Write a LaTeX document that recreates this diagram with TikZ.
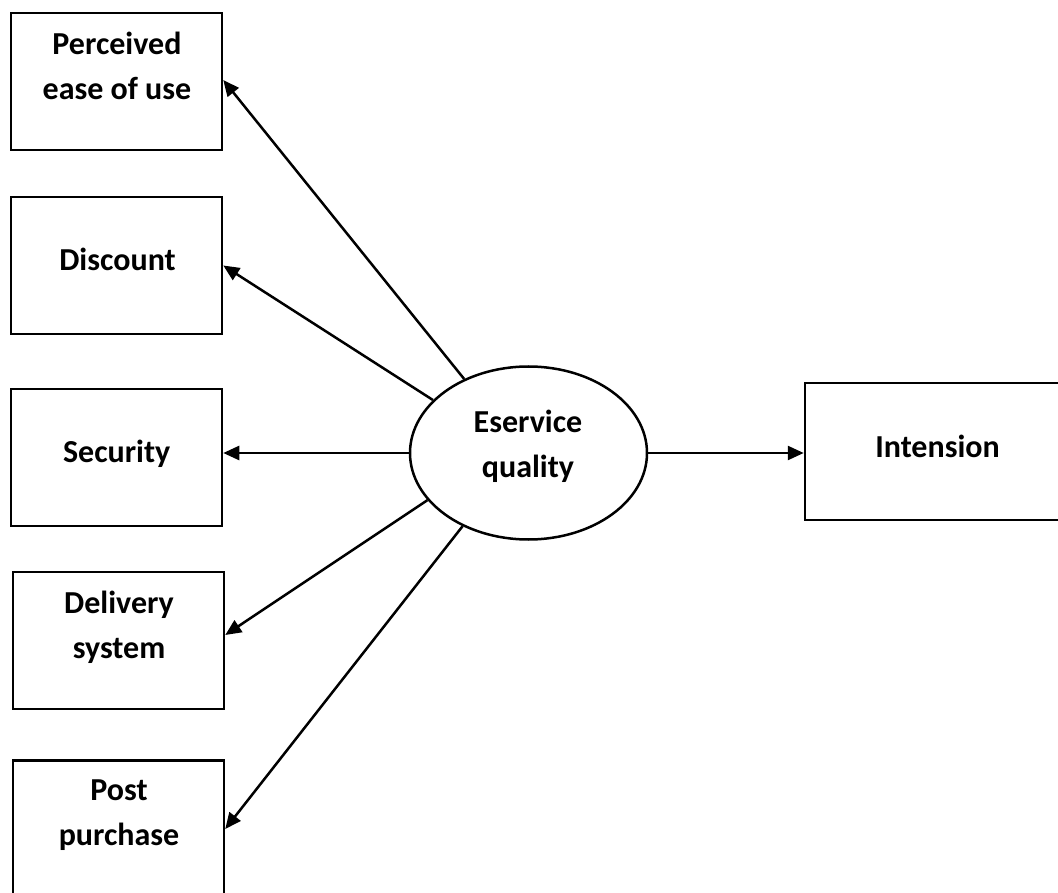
\documentclass[tikz,border=0pt]{standalone}
\usepackage{fontspec}
\setmainfont{Carlito}
\usetikzlibrary{shapes.geometric,arrows.meta}
\tikzset{
  box/.style={draw=black, line width=2.5pt, minimum width=211pt, minimum height=137pt, inner sep=0pt},
  lbl/.style={font=\fontsize{32}{45}\selectfont\bfseries, align=center, anchor=base, inner sep=0pt},
  link/.style={line width=2.5pt, -{Triangle[length=16pt,width=14pt]}}
}
\begin{document}
\begin{tikzpicture}[x=1pt,y=-1pt]
\useasboundingbox (0,0) rectangle (1058,893);
\clip (0,0) rectangle (1058,893);
\node[box] (b1) at (116.5,81.5) {};
\node[box] (b2) at (116.5,265.5) {};
\node[box] (b3) at (116.5,457.5) {};
\node[box] (b4) at (118.5,640.5) {};
\node[box] (b5) at (118.5,829) {};
\node[box, minimum width=266pt] (b6) at (938,451.5) {};
\node[draw=black, line width=2.5pt, ellipse, minimum width=237pt, minimum height=173pt, inner sep=0pt] (e) at (528.5,453) {};
\node[lbl] (t1) at (117,100) {Perceived\\ease of use};
\node[lbl] (t2) at (117.5,271) {Discount};
\node[lbl] (t3) at (116.7,462) {Security};
\node[lbl] (t4) at (119,658) {Delivery\\system};
\node[lbl] (t5) at (119,845) {Post\\purchase};
\node[lbl] (te) at (528,477) {Eservice\\quality};
\node[lbl] (t6) at (937.5,457) {Intension};
\draw[link] (e.131.6) -- ([yshift=1.5pt]b1.east);
\draw[link] (e.151.2) -- (b2.east);
\draw[link] (e.west) -- (b3.east |- e.west);
\draw[link] (e.205.8) -- ([yshift=5.5pt]b4.east);
\draw[link] (e.228.9) -- (b5.east);
\draw[link] (e.east) -- (b6.west |- e.east);
\end{tikzpicture}
\end{document}
